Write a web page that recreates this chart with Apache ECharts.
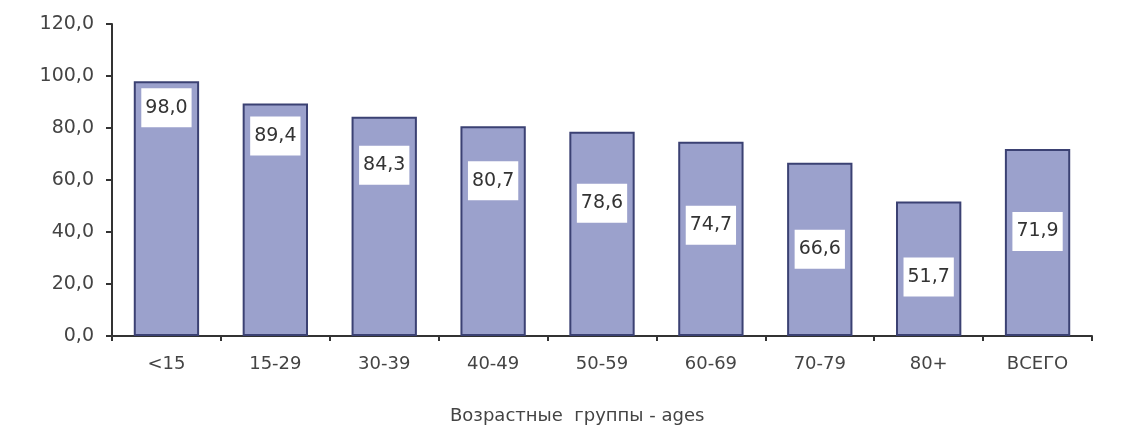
<!DOCTYPE html>
<html>
<head>
    <meta charset="UTF-8">
    <title>Возрастные группы</title>
    <script src="https://cdn.jsdelivr.net/npm/echarts@6/dist/echarts.min.js"></script>
</head>
<body style="margin:0;">
    <div id="main" style="width: 1137px;height:435px;"></div>
    <script type="text/javascript">
        // данные
        var categories = ['<15', '15-29', '30-39', '40-49', '50-59', '60-69', '70-79', '80+', 'ВСЕГО'];
        var values = [98.0, 89.4, 84.3, 80.7, 78.6, 74.7, 66.6, 51.7, 71.9];
        // отступ подписи от верха столбца (стиль, px)
        var labelGap = [7, 13, 29, 35, 52, 64, 67, 56, 63];

        var fmt = function (v) { return Number(v).toFixed(1).replace('.', ','); };

        var myChart = echarts.init(document.getElementById('main'));

        var seriesData = values.map(function (v, i) {
            return { value: v, label: { distance: labelGap[i] } };
        });

        var option = {
            animation: false,
            title: {
                text: 'Возрастные  группы - ages',
                left: 445,
                top: 402,
                textStyle: { fontFamily: 'DejaVu Sans', fontSize: 18, fontWeight: 'normal', color: '#444' }
            },
            grid: { left: 112, right: 45, top: 24, bottom: 99 },
            xAxis: {
                type: 'category',
                data: categories,
                axisLine: { lineStyle: { color: '#333', width: 2 } },
                axisTick: { show: true, length: 5, lineStyle: { color: '#333', width: 2 } },
                axisLabel: { margin: 19, fontFamily: 'DejaVu Sans', fontSize: 18, color: '#444' }
            },
            yAxis: {
                type: 'value',
                min: 0,
                max: 120,
                interval: 20,
                splitLine: { show: false },
                axisLine: { show: true, lineStyle: { color: '#333', width: 2 } },
                axisTick: { show: true, length: 6, lineStyle: { color: '#333', width: 2 } },
                axisLabel: { margin: 18, fontFamily: 'DejaVu Sans', fontSize: 19, color: '#444', formatter: fmt }
            },
            series: [
                {
                    type: 'bar',
                    data: seriesData,
                    barCategoryGap: '40%',
                    itemStyle: { color: '#9ba1cc', borderColor: '#3b4173', borderWidth: 2 },
                    label: {
                        show: true,
                        position: 'insideTop',
                        formatter: function (p) { return fmt(p.value); },
                        fontFamily: 'DejaVu Sans',
                        fontSize: 19,
                        color: '#333',
                        backgroundColor: '#fff',
                        padding: [10, 4, 10, 4]
                    }
                }
            ]
        };

        myChart.setOption(option);
    </script>
</body>
</html>
